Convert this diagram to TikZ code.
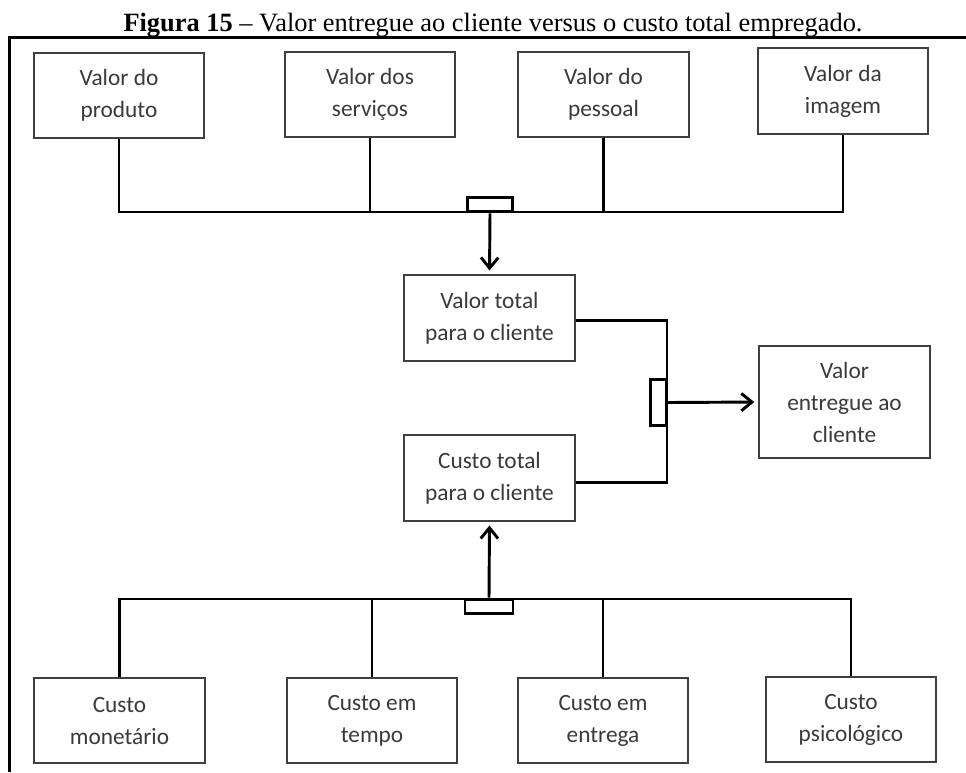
\documentclass[tikz,border=0pt]{standalone}
\usepackage{fontspec}
\setmainfont{Liberation Serif}
\newfontfamily\boxfont{Carlito}
\usetikzlibrary{arrows.meta}

\definecolor{txt}{HTML}{3A3A3A}
\definecolor{boxline}{HTML}{404040}

\tikzset{
  box/.style={draw=boxline, line width=1.3pt, fill=white, text=txt,
    font=\boxfont\fontsize{17.5}{24}\selectfont, align=center,
    inner sep=0pt, minimum width=128pt, minimum height=64pt},
  bigbox/.style={box, minimum height=84pt},
  link/.style={line width=2.2pt, draw=black, line join=miter},
  junction/.style={draw=black, line width=2.2pt, fill=white, inner sep=0pt},
  flow/.style={link, -{Straight Barb[length=8pt,width=13pt,line width=2.2pt]}, shorten >=3pt}
}

\begin{document}
\begin{tikzpicture}[x=0.75pt,y=-0.75pt]
  \useasboundingbox (0,0) rectangle (966,772);
  \fill[white] (0,0) rectangle (966,772);

  % caption and frame
  \node[font=\fontsize{19.8}{22}\selectfont, inner sep=0pt, anchor=base] (title) at (493,31)
    {\textbf{Figura 15} -- Valor entregue ao cliente versus o custo total empregado.};
  \draw[line width=2.2pt] (966,37.5) -- (9.5,37.5) -- (9.5,772);

  % value components
  \node[box] (b1) at (119,95.5) {Valor do\\produto};
  \node[box] (b2) at (370,94.5) {Valor dos\\serviços};
  \node[box] (b3) at (603.5,94.5) {Valor do\\pessoal};
  \node[box] (b4) at (843,91) {Valor da\\imagem};

  % cost components
  \node[box] (c1) at (119.5,720.5) {Custo\\monetário};
  \node[box] (c2) at (372,720.5) {Custo em\\tempo};
  \node[box] (c3) at (603,720.5) {Custo em\\entrega};
  \node[box] (c4) at (851,719.5) {Custo\\psicológico};

  % totals and result
  \node[box] (vt) at (489.5,318) {Valor total\\para o cliente};
  \node[box] (ct) at (489.5,478) {Custo total\\para o cliente};
  \node[bigbox] (ve) at (844.5,402) {Valor\\entregue ao\\cliente};

  % top collector bar
  \coordinate (tb) at (0,212);
  \draw[link] (b1.south) -- (b1.south |- tb) -- (b4.south |- tb) -- (b4.south);
  \draw[link] (b2.south) -- (b2.south |- tb);
  \draw[link] (b3.south) -- (b3.south |- tb);
  \node[junction, minimum width=34pt, minimum height=11pt] (jt) at (490,204.5) {};
  \draw[flow] (jt.south) -- (vt.north);

  % bottom collector bar
  \coordinate (bb) at (0,599);
  \draw[link] (c1.north) -- (c1.north |- bb) -- (c4.north |- bb) -- (c4.north);
  \draw[link] (c2.north) -- (c2.north |- bb);
  \draw[link] (c3.north) -- (c3.north |- bb);
  \node[junction, minimum width=36pt, minimum height=11pt] (jb) at (489,606.5) {};
  \draw[flow] (jb.north) -- (ct.south);

  % right-hand bracket joining both totals
  \coordinate (rx) at (667,0);
  \draw[link] ([yshift=-2pt]vt.east) -- ([yshift=-2pt]vt.east -| rx)
    -- ([yshift=-3.5pt]ct.east -| rx) -- ([yshift=-3.5pt]ct.east);
  \node[junction, minimum width=12pt, minimum height=35pt] (jr) at (658.5,402.5) {};
  \draw[flow] (jr.east) -- (ve.west);
\end{tikzpicture}
\end{document}
